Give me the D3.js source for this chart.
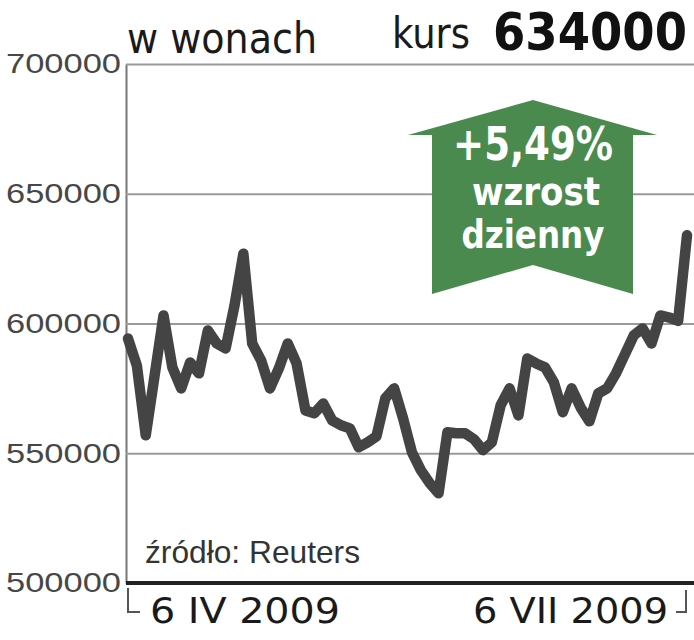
<!DOCTYPE html>
<html>
<head>
<meta charset="utf-8">
<script src="https://cdn.jsdelivr.net/npm/d3@7"></script>
<style>
  body { margin: 0; background: #fff; }
  svg { display: block; }
</style>
</head>
<body>
<svg width="694" height="640"></svg>
<script>
// daily close, 6 IV 2009 .. 6 VII 2009
var kurs = [
  594200, 583800, 556900, 580000, 603100, 583100, 575000, 585000, 580800, 597300,
  592300, 590400, 606900, 626900, 592300, 585800, 575000, 582700, 592300, 584600,
  566500, 565400, 569200, 562700, 560800, 559600, 552300, 554200, 556500, 571200,
  575000, 563500, 550400, 543500, 538500, 534600, 558100, 557700, 557700, 555400,
  551200, 554200, 568500, 575000, 564600, 586500, 584600, 583100, 577300, 565800,
  575000, 567700, 562300, 573100, 575000, 580800, 588100, 595400, 598100, 592300,
  603100, 602300, 601000, 634000
];
var yTicks = [500000, 550000, 600000, 650000, 700000];
var dateLabels = ['6 IV 2009', '6 VII 2009'];
var header = ['w wonach', 'kurs', '634000'];
var arrowText = ['+5,49%', 'wzrost', 'dzienny'];
var source = 'źródło: Reuters';

var svg = d3.select('svg');
var narrow = '"Liberation Sans Narrow", "DejaVu Sans Condensed", "DejaVu Sans", sans-serif';
var thin = '"Liberation Sans", "DejaVu Sans", sans-serif';

var plotL = 126, plotR = 694, plotT = 64, plotB = 583;

var x = d3.scaleLinear().domain([0, kurs.length - 1]).range([128, 687]);
var y = d3.scaleLinear().domain([500000, 700000]).range([plotB, plotT]);

// grid + labels
var yAxis = d3.axisLeft(y)
    .tickValues(yTicks)
    .tickSizeInner(-(plotR - plotL))
    .tickSizeOuter(0)
    .tickPadding(5)
    .tickFormat(d3.format('d'));

var ga = svg.append('g').attr('transform', 'translate(' + plotL + ',0)').call(yAxis);
ga.select('.domain').attr('stroke', '#777').attr('stroke-width', 2);
ga.selectAll('.tick line').attr('stroke', '#9a9a9a').attr('stroke-width', 2);
ga.selectAll('.tick text')
    .attr('fill', '#474747')
    .style('font-family', thin)
    .style('font-size', '28px')
    .style('font-weight', '300')
    .attr('textLength', 115)
    .attr('lengthAdjust', 'spacingAndGlyphs');

// base line
svg.append('line')
    .attr('x1', plotL).attr('x2', plotR)
    .attr('y1', y(500000)).attr('y2', y(500000))
    .attr('stroke', '#222').attr('stroke-width', 4);

// arrow
var arrow = [[533, 100], [657, 135], [633, 135], [633, 294], [533, 265],
             [432, 294], [432, 135], [408, 135]];
svg.append('path')
    .attr('d', d3.line()(arrow) + 'Z')
    .attr('fill', '#4b8a4f');

var at = svg.append('g').attr('fill', '#fff')
    .attr('text-anchor', 'middle')
    .style('font-family', narrow)
    .style('font-weight', 'bold');
at.append('text').attr('x', 533).attr('y', 160).style('font-size', '46px')
    .attr('textLength', 160).attr('lengthAdjust', 'spacingAndGlyphs').text(arrowText[0]);
at.append('text').attr('x', 536).attr('y', 205).style('font-size', '39px')
    .attr('textLength', 128).attr('lengthAdjust', 'spacingAndGlyphs').text(arrowText[1]);
at.append('text').attr('x', 533).attr('y', 248).style('font-size', '39px')
    .attr('textLength', 143).attr('lengthAdjust', 'spacingAndGlyphs').text(arrowText[2]);

// price line
svg.append('path')
    .datum(kurs)
    .attr('fill', 'none')
    .attr('stroke', '#444')
    .attr('stroke-width', 10.5)
    .attr('stroke-linejoin', 'round')
    .attr('stroke-linecap', 'round')
    .attr('d', d3.line().x(function(d, i) { return x(i); }).y(function(d) { return y(d); }));

// header
svg.append('text').attr('x', 127).attr('y', 53)
    .style('font-family', narrow).style('font-size', '42px').attr('fill', '#1a1a1a')
    .attr('textLength', 190).attr('lengthAdjust', 'spacingAndGlyphs').text(header[0]);
svg.append('text').attr('x', 392).attr('y', 48)
    .style('font-family', narrow).style('font-size', '43px').attr('fill', '#1a1a1a')
    .attr('textLength', 78).attr('lengthAdjust', 'spacingAndGlyphs').text(header[1]);
svg.append('text').attr('x', 493).attr('y', 50)
    .style('font-family', narrow).style('font-size', '52px').style('font-weight', 'bold')
    .attr('fill', '#111')
    .attr('textLength', 194).attr('lengthAdjust', 'spacingAndGlyphs').text(header[2]);

// source
svg.append('text').attr('x', 145).attr('y', 563)
    .style('font-family', thin).style('font-size', '32px').style('font-weight', '300')
    .attr('fill', '#333')
    .attr('textLength', 215).attr('lengthAdjust', 'spacingAndGlyphs').text(source);

// date brackets + labels
var xEnd = x(kurs.length - 1);
var br = svg.append('g').attr('fill', 'none').attr('stroke', '#555').attr('stroke-width', 2);
br.append('path').attr('d', d3.line()([[x(0), 588], [x(0), 612], [x(0) + 12, 612]]));
br.append('path').attr('d', d3.line()([[xEnd - 1, 590], [xEnd - 1, 612], [xEnd - 11, 612]]));

svg.append('text').attr('x', x(0) + 22).attr('y', 623)
    .style('font-family', narrow).style('font-size', '35px').attr('fill', '#1a1a1a')
    .attr('textLength', 190).attr('lengthAdjust', 'spacingAndGlyphs').text(dateLabels[0]);
svg.append('text').attr('x', xEnd - 19).attr('y', 623)
    .attr('text-anchor', 'end')
    .style('font-family', narrow).style('font-size', '35px').attr('fill', '#1a1a1a')
    .attr('textLength', 195).attr('lengthAdjust', 'spacingAndGlyphs').text(dateLabels[1]);
</script>
</body>
</html>
